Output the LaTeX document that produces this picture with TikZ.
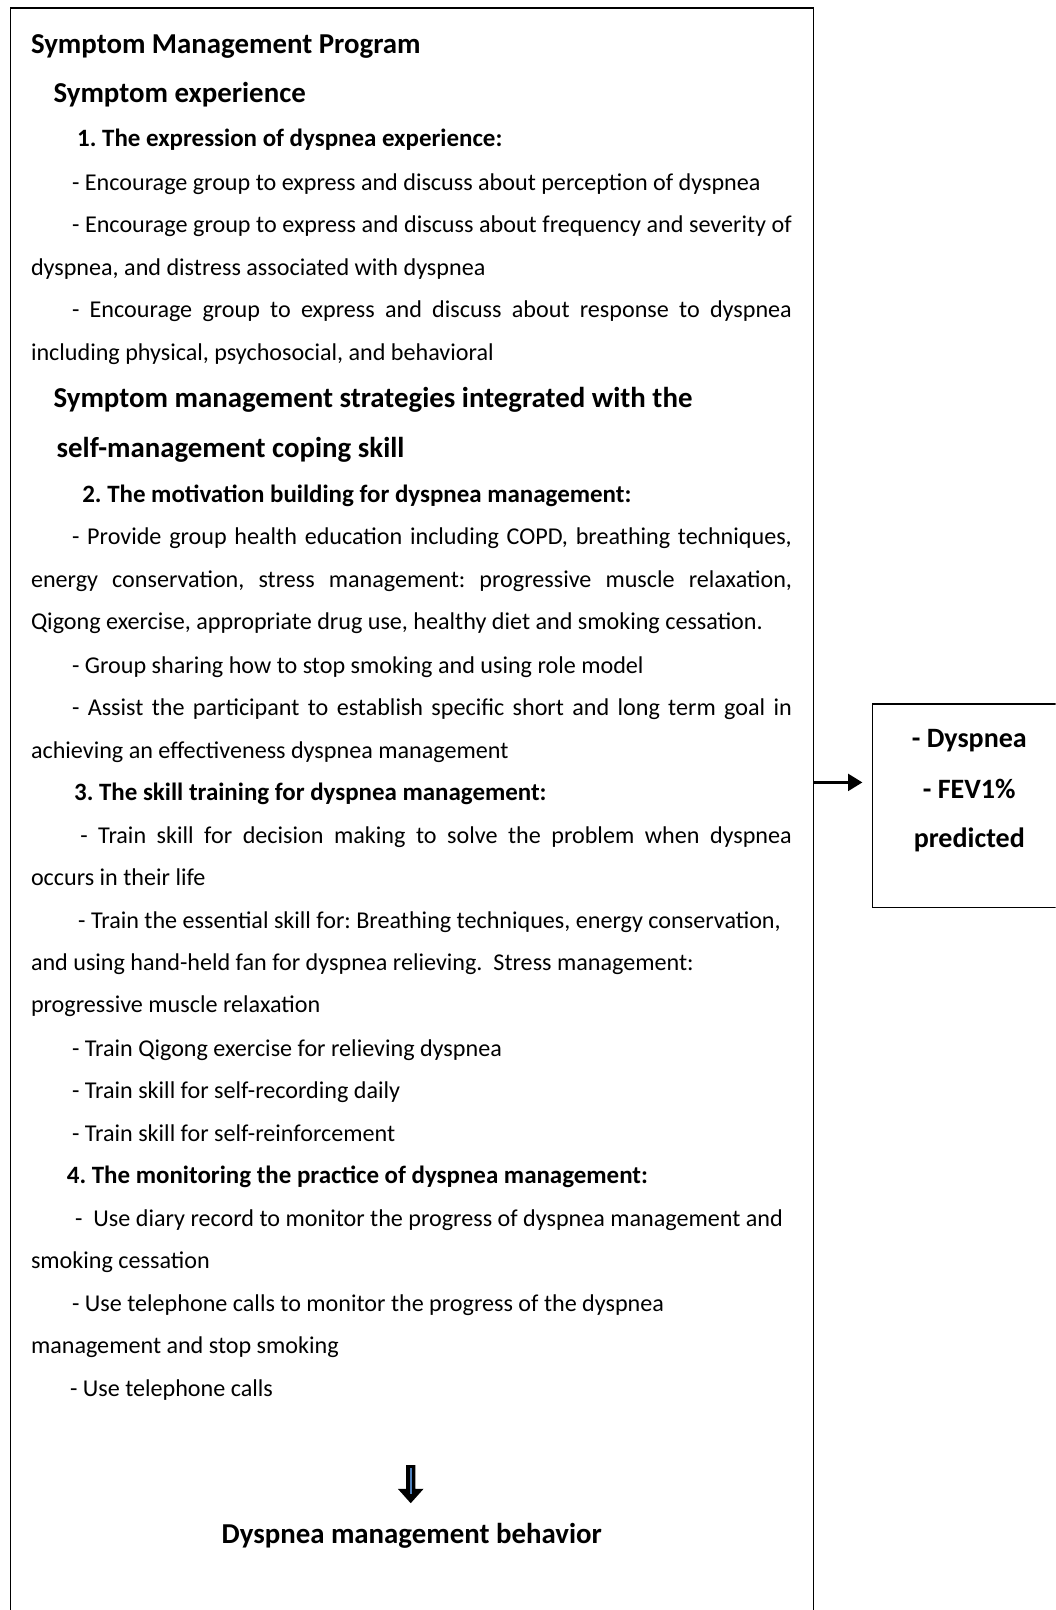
\documentclass[tikz,border=0pt]{standalone}
\usepackage{fontspec}
\setmainfont{Carlito}
\usetikzlibrary{arrows.meta}
\frenchspacing
\tikzset{
  body/.style={anchor=west, inner sep=0pt, yshift=-3pt, font=\fontsize{23.5}{23.5}\selectfont\frenchspacing, text height=16.8pt, text depth=5.8pt},
  head/.style={anchor=west, inner sep=0pt, yshift=-3pt, font=\fontsize{28.1}{28.1}\selectfont\bfseries, text height=20.4pt, text depth=7.1pt},
  sub/.style={anchor=west, inner sep=0pt, yshift=-3pt, font=\fontsize{24.3}{24.3}\selectfont\bfseries, text height=17.3pt, text depth=6.1pt},
  outbox/.style={draw=black, line width=1.4pt},
  outtext/.style={inner sep=0pt, yshift=-3pt, font=\fontsize{27.3}{27.3}\selectfont\bfseries, text height=19.8pt, text depth=7pt},
}
\newcommand{\jl}[2]{\makebox[#1pt][s]{#2}}
\begin{document}
\begin{tikzpicture}[x=1pt,y=-1pt]
\useasboundingbox (0,0) rectangle (1028,1568);
\fill[white] (0,0) rectangle (1028,1568);
\begin{scope}
\clip (0,0) rectangle (1028,1568);
% main box (open at the bottom of the page)
\draw[outbox] (10,1600) coordinate (mbl) -- (10,8) -- (792,8) -- (792,1600);
\coordinate (mright) at (792,762);
% outcome box
\node[draw=black, line width=1.7pt, minimum width=200pt, minimum height=198pt, anchor=north west, inner sep=0pt] (out) at (849,685) {};
\end{scope}
\coordinate (atip) at (840,762);

\node[head] (t0) at (30,42) {Symptom Management Program};
\node[head] (h1) at (52,90) {Symptom experience};
\node[sub]  (s1) at (75,134) {1. The expression of dyspnea experience:};
\node[body] (b1) at (70,177) {- Encourage group to express and discuss about perception of dyspnea};
\node[body] (b2) at (70,218) {\jl{701}{- Encourage group to express and discuss about frequency and severity of}};
\node[body] (b3) at (30,260) {dyspnea, and distress associated with dyspnea};
\node[body] (b4) at (70,301) {\jl{701}{- Encourage group to express and discuss about response to dyspnea}};
\node[body] (b5) at (30,343) {including physical, psychosocial, and behavioral};

\node[head] (h2) at (52,387) {Symptom management strategies integrated with the};
\node[head] (h2b) at (55,436) {self-management coping skill};
\node[sub]  (s2) at (80,481) {2. The motivation building for dyspnea management:};
\node[body] (c1) at (70,522) {\jl{701}{- Provide group health education including COPD, breathing techniques,}};
\node[body] (c2) at (30,564) {\jl{741}{energy conservation, stress management: progressive muscle relaxation,}};
\node[body] (c3) at (30,605) {Qigong exercise, appropriate drug use, healthy diet and smoking cessation.};
\node[body] (c4) at (70,647) {- Group sharing how to stop smoking and using role model};
\node[body] (c5) at (70,688) {\jl{701}{- Assist the participant to establish specific short and long term goal in}};
\node[body] (c6) at (30,730) {achieving an effectiveness dyspnea management};

\node[sub]  (s3) at (72,771) {3. The skill training for dyspnea management:};
\node[body] (d1) at (78,813) {\jl{693}{- Train skill for decision making to solve the problem when dyspnea}};
\node[body] (d2) at (30,854) {occurs in their life};
\node[body] (d3) at (76,896) {- Train the essential skill for: Breathing techniques, energy conservation,};
\node[body] (d4) at (30,937) {and using hand-held fan for dyspnea relieving.\ \ Stress management:};
\node[body] (d5) at (30,978) {progressive muscle relaxation};
\node[body] (d6) at (70,1020) {- Train Qigong exercise for relieving dyspnea};
\node[body] (d7) at (70,1061) {- Train skill for self-recording daily};
\node[body] (d8) at (70,1103) {- Train skill for self-reinforcement};

\node[sub]  (s4) at (65,1144) {4. The monitoring the practice of dyspnea management:};
\node[body] (e1) at (73,1186) {-\ \ Use diary record to monitor the progress of dyspnea management and};
\node[body] (e2) at (30,1227) {smoking cessation};
\node[body] (e3) at (70,1269) {- Use telephone calls to monitor the progress of the dyspnea};
\node[body] (e4) at (30,1310) {management and stop smoking};
\node[body] (e5) at (68,1352) {- Use telephone calls};

% down block arrow
\coordinate (dtop) at (400,1427);
\coordinate (dtip) at (400,1464);
\fill[black] (395.5,1427) -- (404.5,1427) -- (404.5,1450) -- (412.5,1450) -- (dtip) -- (387.5,1450) -- (395.5,1450) -- cycle;
\draw[color={rgb,255:red,79;green,129;blue,189}, line width=1.6pt] (400,1430) -- (400,1455);

\node[head, anchor=center] (beh) at (401,1494) {Dyspnea management behavior};

% outcome texts
\node[outtext] (o1) at (944,719) {- Dyspnea};
\node[outtext] (o2) at (944,768) {- FEV1\%};
\node[outtext] (o3) at (944,816) {predicted};

% connector
\draw[line width=3.5pt, -{Triangle[length=14pt,width=16pt]}] (mright) -- (atip);
\end{tikzpicture}
\end{document}
